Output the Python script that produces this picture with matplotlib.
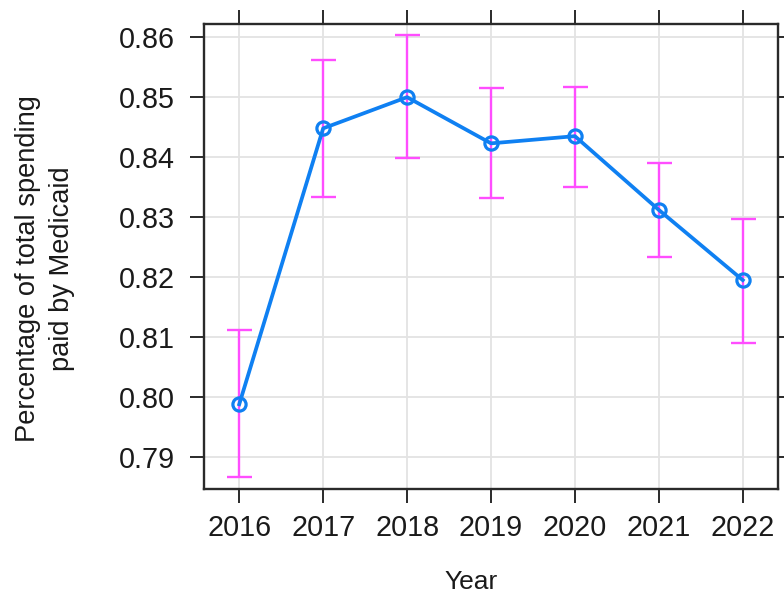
import matplotlib
matplotlib.use("Agg")
import matplotlib.pyplot as plt

years = [2016, 2017, 2018, 2019, 2020, 2021, 2022]
estimate = [0.7988, 0.8448, 0.8500, 0.8423, 0.8435, 0.8312, 0.8195]
lower = [0.7867, 0.8333, 0.8398, 0.8332, 0.8350, 0.8233, 0.8090]
upper = [0.8112, 0.8562, 0.8603, 0.8515, 0.8517, 0.8390, 0.8297]
yticks = [0.79, 0.80, 0.81, 0.82, 0.83, 0.84, 0.85, 0.86]
ytick_labels = ["0.79", "0.80", "0.81", "0.82", "0.83", "0.84", "0.85", "0.86"]

plt.rcParams['font.family'] = ['Liberation Sans', 'DejaVu Sans']

fig = plt.figure(figsize=(7.84, 5.94), dpi=100)
ax = fig.add_axes([204/784, 1-489/594, (778-204)/784, (489-24)/594])

ax.set_xlim(2015.58, 2022.42)
ax.set_ylim(0.78467, 0.8622)

ax.set_xticks(years)
ax.set_xticklabels([str(y) for y in years])
ax.set_yticks(yticks)
ax.set_yticklabels(ytick_labels)

ax.grid(True, color='#e3e3e3', linewidth=1.3, zorder=0)
ax.set_axisbelow(True)

err_lo = [e - l for e, l in zip(estimate, lower)]
err_hi = [u - e for e, u in zip(estimate, upper)]
ax.errorbar(years, estimate, yerr=[err_lo, err_hi], fmt='none',
            ecolor='#ff4dff', elinewidth=1.7, capsize=9, capthick=1.7, zorder=2)
ax.plot(years, estimate, color='#0f80f2', linewidth=2.7, zorder=3,
        marker='o', markersize=9.5, markerfacecolor='none',
        markeredgecolor='#0f80f2', markeredgewidth=2.3)

for s in ax.spines.values():
    s.set_color('#2a2a2a')
    s.set_linewidth(1.7)

ax.tick_params(axis='both', which='major', direction='out', length=10, width=1.4,
               color='#2a2a2a', labelsize=20.7, labelcolor='#1a1a1a',
               top=True, right=True, labeltop=False, labelright=False)
ax.tick_params(axis='x', pad=8)
ax.tick_params(axis='y', pad=11)

fig.text(471/784, 1-582/594, "Year", ha='center', va='center', fontsize=19, color='#1a1a1a')
fig.text(45/784, 1-269/594, "Percentage of total spending\npaid by Medicaid",
         ha='center', va='center', rotation=90, fontsize=19.6, color='#1a1a1a',
         linespacing=1.38, multialignment='center')

fig.savefig("out.png", dpi=100)
